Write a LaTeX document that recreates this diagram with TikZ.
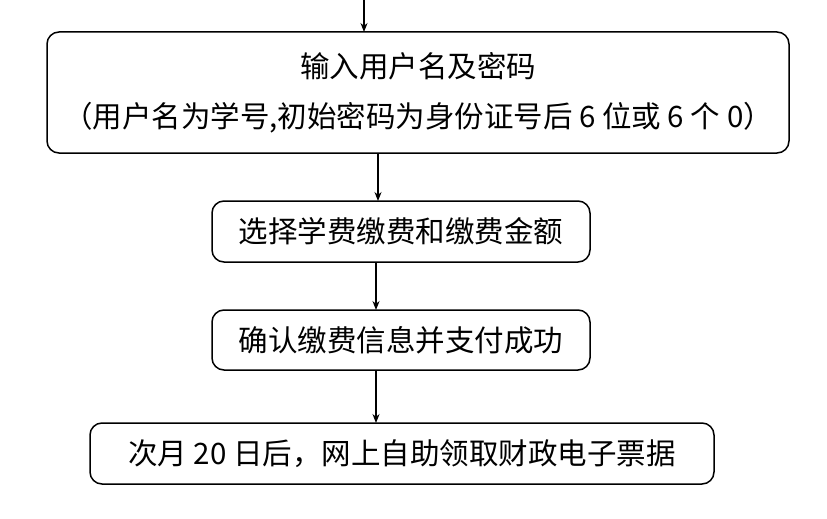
\documentclass[tikz,border=0pt]{standalone}
\usepackage{fontspec}
\newfontfamily\cjk{Noto Sans CJK SC}
\usetikzlibrary{arrows.meta}
\begin{document}
\begin{tikzpicture}[x=1pt,y=-1pt,
 box/.style={draw,line width=1.5pt,rounded corners=12pt,inner sep=0pt,font=\cjk\fontsize{29.5}{50}\selectfont,align=center},
 arr/.style={-{Stealth[length=9pt,width=7pt]},line width=1.3pt}]
\useasboundingbox (0,0) rectangle (827,519);
\node[box,minimum width=742pt,minimum height=121pt] (b1) at (418,92.5) {输入用户名及密码\\（用户名为学号,初始密码为身份证号后 6 位或 6 个 0）};
\node[box,minimum width=378pt,minimum height=61pt] (b2) at (401,231.5) {选择学费缴费和缴费金额};
\node[box,minimum width=378pt,minimum height=60pt] (b3) at (401,340) {确认缴费信息并支付成功};
\node[box,minimum width=624pt,minimum height=61pt] (b4) at (402,453.5) {次月 20 日后，网上自助领取财政电子票据};
\coordinate (top) at (364,0);
\draw[arr] (top) -- (364,32);
\draw[arr] (378,153) -- (378,201);
\draw[arr] (376,262) -- (376,310);
\draw[arr] (376,370) -- (376,423);
\end{tikzpicture}
\end{document}
